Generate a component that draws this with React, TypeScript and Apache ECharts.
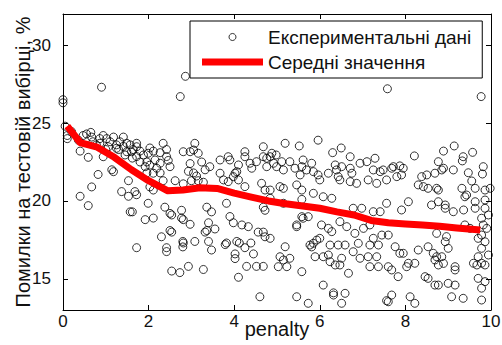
import React, { useEffect, useRef } from 'react';
import * as echarts from 'echarts';

const xTickValues = [0, 2, 4, 6, 8, 10];
const yTickValues = [15, 20, 25, 30];

const scatterName = 'Експериментальні дані';
const meanName = 'Середні значення';
const xAxisName = 'penalty';
const yAxisName = 'Помилки на тестовій вибірці, %';

// experimental points [penalty, error %]
const experimentPoints: [number, number][] = [
  [0.0, 26.5], [0.0, 26.3], [0.9, 27.3], [2.74, 26.7], [2.86, 28.0], [7.58, 27.2], [9.77, 26.7],
  [0.05, 24.8], [0.1, 24.2], [0.1, 24.0], [0.4, 23.2], [0.47, 24.2], [0.55, 24.3], [0.65, 24.4], [0.59, 22.8], [0.7, 23.8], [0.78, 23.6],
  [0.94, 24.2], [1.02, 24.0], [1.1, 23.8], [1.18, 24.1], [1.25, 23.6], [1.33, 23.8], [1.41, 23.5], [1.49, 23.7], [1.57, 23.6], [1.72, 23.7],
  [1.64, 23.3], [1.8, 23.2], [1.88, 22.95], [2.03, 23.4], [2.11, 23.2], [2.27, 23.1], [2.34, 23.7], [2.42, 23.3], [2.42, 22.85], [1.96, 22.5],
  [2.03, 22.3], [2.19, 22.1], [2.27, 21.8], [2.34, 21.3], [2.03, 20.9], [2.11, 20.7], [1.8, 22.5], [1.72, 22.85], [1.14, 22.0], [0.82, 21.7],
  [0.67, 20.9], [0.4, 20.3], [1.37, 20.6], [1.68, 20.6], [1.72, 20.4], [1.53, 21.3], [1.96, 21.8],
  [0.2, 24.45], [0.36, 23.9], [0.67, 24.1], [0.86, 24.0], [1.41, 24.1], [0.86, 23.7], [1.06, 23.48], [1.25, 23.38], [1.49, 23.16], [1.6, 23.16],
  [1.72, 23.48], [1.99, 23.06], [2.15, 22.63], [2.27, 22.42], [2.5, 22.2], [0.94, 22.84], [1.18, 21.88], [1.92, 22.2], [2.11, 21.78],
  [1.3, 23.3], [1.45, 22.95], [1.62, 22.75], [1.0, 23.3],
  [0.59, 19.7], [1.53, 20.3], [1.57, 19.3], [1.62, 19.3], [1.72, 17.0], [1.92, 18.8], [1.99, 19.85], [2.11, 18.9], [2.3, 17.7], [2.38, 19.6],
  [2.42, 17.0], [2.42, 16.75], [2.5, 19.2], [2.54, 19.1], [2.54, 18.0], [2.54, 15.5], [2.73, 15.4], [2.77, 19.4], [2.77, 18.9], [2.81, 18.8],
  [2.8, 17.4], [2.81, 17.3], [2.8, 17.05], [2.93, 15.8], [2.97, 18.5], [3.08, 17.4], [3.28, 15.6], [3.32, 18.0], [3.36, 19.6], [3.47, 19.3],
  [3.4, 18.6], [3.4, 17.4], [3.47, 16.85], [3.55, 18.2], [3.82, 19.85], [3.9, 19.0], [3.82, 17.3], [3.98, 18.6], [4.02, 16.6], [4.02, 16.3],
  [4.06, 17.4], [4.12, 17.3], [4.1, 15.1], [4.25, 17.0], [4.29, 15.8], [4.33, 18.35],
  [2.5, 18.1], [3.36, 18.1], [3.79, 17.2], [4.45, 16.6], [4.18, 18.46], [4.39, 17.3], [4.56, 18.0], [4.68, 18.0], [4.72, 17.7], [4.52, 15.8],
  [4.68, 15.8], [4.6, 13.85], [4.68, 19.6], [4.72, 19.4],
  [3.08, 23.7], [2.81, 23.16], [2.97, 23.16], [3.05, 23.27], [3.16, 23.06], [2.46, 22.6], [2.97, 22.4], [3.24, 22.5], [3.32, 22.0], [3.43, 22.2],
  [2.93, 21.9], [3.05, 21.8], [3.12, 21.6], [3.0, 21.3], [3.16, 21.3], [3.28, 21.2], [2.62, 21.3], [2.81, 21.1],
  [3.67, 22.63], [3.86, 22.84], [3.9, 22.63], [4.1, 22.31], [4.06, 21.88], [4.25, 23.16], [4.25, 22.84], [4.41, 22.1], [4.52, 22.52], [4.68, 23.48],
  [4.68, 22.84], [4.76, 22.74], [4.88, 23.06], [4.92, 22.42],
  [3.67, 21.78], [3.75, 21.35], [3.86, 21.24], [3.98, 21.56], [4.02, 21.78], [4.1, 21.35], [4.25, 20.92], [4.64, 21.13], [4.72, 20.7],
  [4.37, 22.42], [4.76, 22.2],
  [5.19, 23.7], [5.52, 23.53], [5.96, 23.9], [6.3, 23.1], [6.5, 23.4], [4.84, 22.84], [4.98, 22.95],
  [4.99, 22.2], [5.11, 22.52], [5.15, 21.99], [5.3, 22.52], [5.42, 22.1], [5.61, 22.63], [5.58, 22.2], [5.54, 21.67], [5.69, 21.99], [5.81, 22.42],
  [5.85, 21.88], [5.96, 21.67], [6.0, 21.35], [6.2, 21.78], [6.36, 22.31], [6.39, 21.99], [6.43, 21.56], [6.51, 22.2], [6.47, 21.35], [6.71, 22.1],
  [6.75, 21.78], [6.71, 21.24], [6.86, 21.13], [6.94, 22.42], [7.1, 22.52], [7.25, 21.99], [7.29, 22.74], [7.13, 21.35], [7.33, 21.13], [7.41, 21.88],
  [6.71, 22.84],
  [4.84, 20.7], [5.07, 20.92], [5.15, 20.81], [5.46, 21.03], [5.58, 20.7], [5.85, 20.49], [6.08, 20.27], [6.28, 20.17],
  [4.84, 20.17], [5.15, 19.85], [5.58, 20.1],
  [6.78, 19.53], [6.98, 19.53], [7.25, 19.31],
  [5.58, 18.99], [5.46, 18.46], [5.46, 18.35], [5.61, 18.89], [5.73, 18.99],
  [6.04, 18.46], [6.2, 18.24], [6.28, 18.03], [6.47, 18.67], [6.63, 18.35], [6.82, 17.92], [7.02, 18.24], [7.17, 18.46],
  [5.77, 17.17], [5.85, 17.28], [5.93, 17.49], [6.0, 17.6], [5.81, 17.05],
  [6.24, 17.17], [6.43, 17.17], [6.59, 17.17], [6.9, 17.28], [7.17, 17.17], [7.25, 17.6],
  [5.07, 16.42], [5.19, 17.06], [5.15, 16.21], [5.3, 16.32], [5.03, 15.78], [5.23, 15.78],
  [5.89, 16.42], [6.08, 16.42], [6.2, 16.53], [6.24, 16.1], [6.36, 15.89], [6.47, 15.89], [6.51, 16.32],
  [6.78, 16.74], [6.94, 16.32], [7.13, 16.42], [7.17, 15.78], [7.37, 15.78], [7.33, 16.42],
  [6.67, 15.36], [5.58, 15.46], [6.08, 14.6], [5.46, 13.85], [5.73, 13.43], [6.32, 13.96], [6.32, 14.1], [6.59, 14.07], [6.51, 13.43], [4.84, 17.6],
  [7.48, 21.99], [7.56, 21.35], [7.68, 22.1], [7.72, 22.2], [7.87, 22.25], [7.8, 21.56], [7.91, 21.67], [8.21, 22.89], [8.89, 23.2], [9.14, 23.53],
  [9.57, 23.12], [8.77, 22.52], [8.89, 22.1], [8.85, 21.99], [9.33, 22.57], [9.47, 21.81], [9.55, 21.28], [9.8, 21.73], [8.3, 21.03], [8.42, 20.92],
  [8.53, 20.81], [8.38, 21.56], [8.5, 21.67], [8.73, 20.81], [8.77, 20.7], [8.69, 21.78], [9.32, 20.81], [9.43, 20.38], [9.63, 20.81], [9.86, 20.7],
  [9.98, 20.81], [9.35, 22.84], [7.95, 22.1], [9.12, 21.99], [9.82, 22.2],
  [7.56, 19.85], [8.07, 19.95], [8.61, 19.74], [8.77, 19.95], [8.93, 19.74], [8.93, 19.53], [9.12, 19.31], [9.36, 19.42], [9.63, 19.53], [9.86, 19.53],
  [9.39, 20.27], [7.41, 19.31], [7.91, 19.42], [7.45, 17.81], [7.6, 17.81], [7.37, 17.17], [7.76, 17.06], [7.87, 16.64], [7.95, 16.64],
  [8.3, 16.85], [8.53, 17.06], [8.65, 16.64], [8.73, 16.42], [8.69, 16.21], [8.85, 16.42], [8.89, 15.99], [8.77, 15.89], [9.0, 16.96], [8.93, 17.38],
  [8.96, 17.71], [8.73, 17.92], [8.07, 16.0], [8.22, 16.0], [8.03, 15.78], [7.6, 15.78], [7.68, 15.57], [7.83, 15.14],
  [8.46, 15.14], [8.53, 15.03], [8.69, 14.6], [8.77, 14.6], [9.0, 14.71], [9.16, 14.6],
  [7.6, 13.53], [7.68, 13.96], [7.56, 13.6], [8.11, 13.85], [8.22, 13.43], [9.08, 13.85], [9.35, 13.75], [9.78, 13.64],
  [9.16, 15.78], [9.16, 15.57],
  [9.59, 16.0], [9.67, 15.89], [9.78, 16.0], [9.86, 15.89], [9.94, 16.53], [9.7, 16.42], [9.78, 16.96], [9.86, 17.38], [9.7, 17.6], [9.78, 17.81],
  [9.9, 18.24], [9.82, 18.46], [9.78, 18.89], [9.94, 19.1],
  [9.7, 15.03], [9.86, 14.82], [9.78, 14.4], [9.63, 19.95], [9.86, 20.06], [9.39, 18.46], [9.51, 18.24],
];

const meanPenalty = [0.1, 0.4, 0.8, 1.2, 1.6, 2.0, 2.45, 2.8, 3.2, 3.6, 4.0, 4.4, 4.8, 5.2, 5.6, 6.0, 6.4, 6.8, 7.2, 7.6, 8.0, 8.4, 8.8, 9.2, 9.75];
const meanError = [24.8, 23.75, 23.45, 22.8, 22.0, 21.3, 20.65, 20.7, 20.85, 20.8, 20.5, 20.25, 20.0, 19.82, 19.67, 19.53, 19.3, 19.1, 18.75, 18.6, 18.52, 18.46, 18.38, 18.27, 18.14];

const FONT = '"Liberation Sans", Arial, Helvetica, sans-serif';
const TEXT = '#111';

export default function App() {
  const ref = useRef<HTMLDivElement>(null);
  useEffect(() => {
    if (!ref.current) return;
    const chart = echarts.init(ref.current, null, { renderer: 'svg' });
    const axisLine = { show: true, onZero: false, lineStyle: { color: '#000', width: 1 } };
    const tick = { show: true, inside: true, length: 5, lineStyle: { color: '#000', width: 1 } };
    const option: any = {
      animation: false,
      backgroundColor: '#fff',
      grid: { left: 63, top: 14, right: 11, bottom: 35, containLabel: false, outerBoundsMode: 'none' },
      legend: {
        orient: 'vertical',
        left: 190,
        top: 21,
        padding: [6, 11, 6, 12],
        itemWidth: 61,
        itemHeight: 7,
        itemGap: 5,
        backgroundColor: '#fff',
        borderColor: '#000',
        borderWidth: 1,
        textStyle: { fontSize: 19, fontFamily: FONT, color: TEXT, lineHeight: 20 },
        data: [
          { name: scatterName, icon: 'circle', itemStyle: { color: 'rgba(0,0,0,0)', borderColor: '#000', borderWidth: 1 } },
          { name: meanName, icon: 'rect', itemStyle: { color: '#ff0000', borderWidth: 0 } },
        ],
      },
      xAxis: [
        {
          type: 'value', min: 0, max: 10, interval: 2, position: 'bottom',
          axisLine, axisTick: { ...tick, customValues: xTickValues },
          axisLabel: { color: TEXT, fontSize: 17, fontFamily: FONT, margin: 3, customValues: xTickValues },
          splitLine: { show: false },
          name: xAxisName, nameLocation: 'middle', nameGap: 9, nameMoveOverlap: false,
          nameTextStyle: { fontSize: 20, color: TEXT, fontFamily: FONT },
        },
        {
          type: 'value', min: 0, max: 10, interval: 2, position: 'top',
          axisLine, axisTick: { ...tick, customValues: xTickValues },
          axisLabel: { show: false }, splitLine: { show: false },
        },
      ],
      yAxis: [
        {
          type: 'value', min: 13, max: 32, position: 'left',
          axisLine, axisTick: { ...tick, customValues: yTickValues },
          axisLabel: { color: TEXT, fontSize: 17, fontFamily: FONT, margin: 12, customValues: yTickValues },
          splitLine: { show: false },
          name: yAxisName, nameLocation: 'middle', nameGap: 30, nameMoveOverlap: false,
          nameTextStyle: { fontSize: 20, color: TEXT, fontFamily: FONT },
        },
        {
          type: 'value', min: 13, max: 32, position: 'right',
          axisLine, axisTick: { ...tick, customValues: yTickValues },
          axisLabel: { show: false, customValues: yTickValues }, splitLine: { show: false },
        },
      ],
      series: [
        {
          type: 'scatter', name: scatterName, xAxisIndex: 0, yAxisIndex: 0,
          data: experimentPoints, symbol: 'circle', symbolSize: 8,
          itemStyle: { color: 'rgba(0,0,0,0)', borderColor: '#000', borderWidth: 1 },
          z: 2,
        },
        {
          type: 'line', name: meanName, xAxisIndex: 0, yAxisIndex: 0,
          data: meanPenalty.map((x, i) => [x, meanError[i]]),
          showSymbol: false, symbol: 'none',
          lineStyle: { color: '#ff0000', width: 7, cap: 'butt', join: 'round' },
          itemStyle: { color: '#ff0000' },
          z: 3,
        },
      ],
    };
    chart.setOption(option);
    return () => chart.dispose();
  }, []);
  return <div ref={ref} style={{ position: 'fixed', left: 0, top: 0, width: 502, height: 345, background: '#fff' }} />;
}
